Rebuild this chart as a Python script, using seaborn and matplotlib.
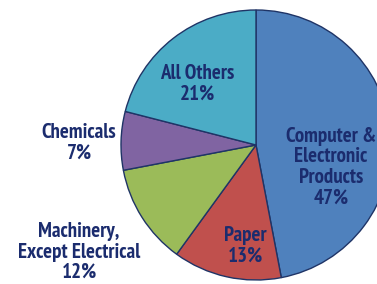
import matplotlib
matplotlib.use("Agg")
import matplotlib.pyplot as plt
import seaborn as sns

categories = ["Computer &\nElectronic\nProducts", "Paper", "Machinery,\nExcept Electrical", "Chemicals", "All Others"]
values = [47, 13, 12, 7, 21]
colors = ["#4F81BD", "#C0504D", "#9BBB59", "#8064A2", "#4BACC6"]

sns.set_theme(style="white")
plt.rcParams['font.family'] = ['PT Sans Narrow', 'Liberation Sans', 'DejaVu Sans']

W, H = 377, 284
fig = plt.figure(figsize=(W / 100, H / 100), dpi=100)
ax = fig.add_axes([0, 0, 1, 1])

cx, cy, r = 256, H - 145, 135
ax.pie(values, colors=colors, startangle=90, counterclock=False,
       center=(cx, cy), radius=r, frame=True,
       wedgeprops=dict(edgecolor="#1F3466", linewidth=1.0))
ax.set_xlim(0, W)
ax.set_ylim(0, H)
ax.set_aspect('equal')
ax.axis('off')

label_pos = [(331, 167), (245, 246), (79, 252), (79, 143), (197, 84)]
txt_color = "#1B2C6E"
for name, v, (px, py) in zip(categories, values, label_pos):
    ax.text(px, H - py, f"{name}\n{v}%", ha='center', va='center',
            fontsize=15, fontweight='bold', color=txt_color, linespacing=1.1)

fig.savefig("out.png", dpi=100, facecolor="white")
